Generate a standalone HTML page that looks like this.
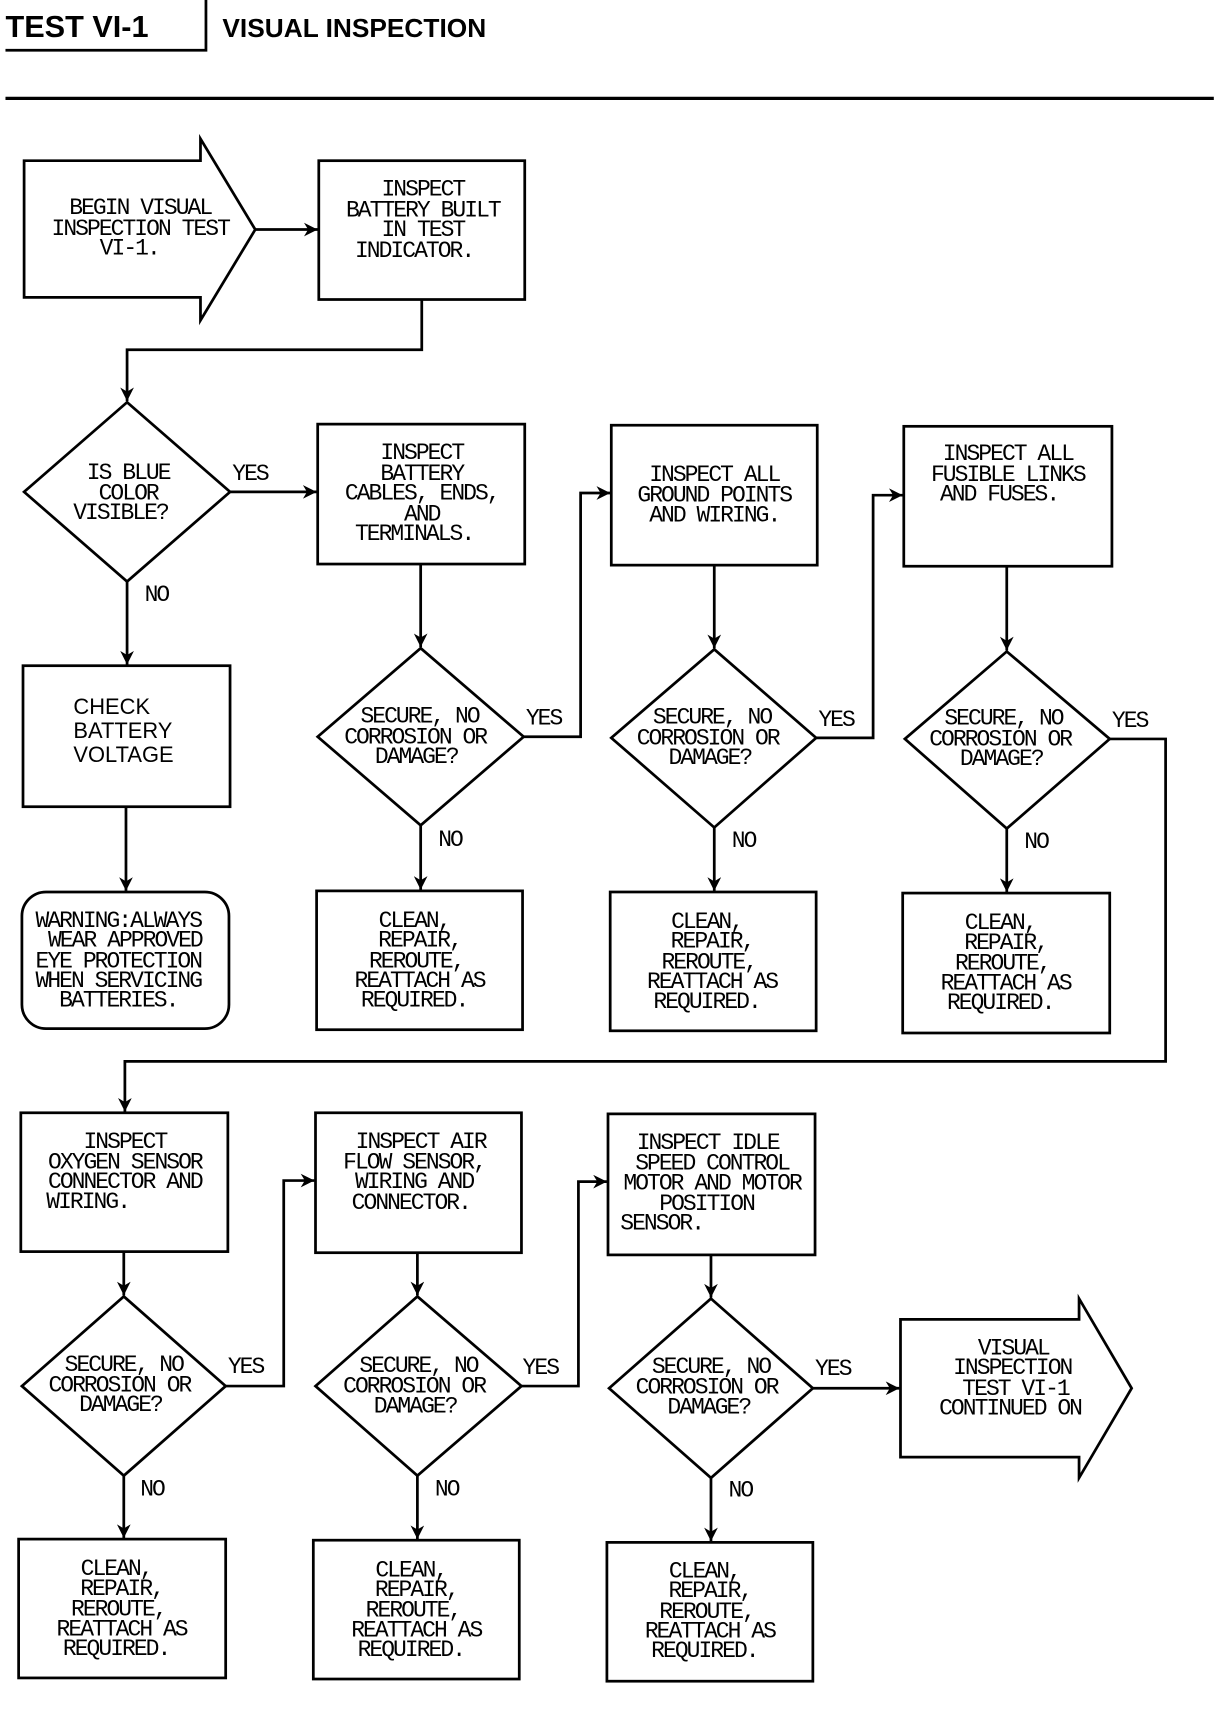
<!DOCTYPE html>
<html><head><meta charset="utf-8"><style>
html,body{margin:0;padding:0;background:#fff;}
svg{display:block;}
.t{font-family:"Liberation Mono",monospace;font-size:21px;letter-spacing:-1.8px;text-anchor:middle;fill:#000;}
.l{font-family:"Liberation Mono",monospace;font-size:21px;letter-spacing:-1.8px;fill:#000;}
.s{font-family:"Liberation Sans",sans-serif;font-size:20px;fill:#000;}
</style></head><body>
<svg width="1216" height="1714" viewBox="0 0 1110 1568" preserveAspectRatio="none" xmlns="http://www.w3.org/2000/svg">
<defs><marker id="a" viewBox="0 0 10 10" refX="10" refY="5" markerWidth="5" markerHeight="5" orient="auto"><path d="M0,0 L10,5 L0,10 L3,5 z" fill="#000"/></marker></defs>
<text x="5" y="34" font-family="Liberation Sans,sans-serif" font-weight="bold" font-size="28">TEST VI-1</text>
<text x="203" y="34" font-family="Liberation Sans,sans-serif" font-weight="bold" font-size="24">VISUAL INSPECTION</text>
<g fill="none" stroke="#000" stroke-width="2.5">
<path d="M188,0 V46 H5"/>
<path d="M5,90 H1108" stroke-width="3"/>
<polygon points="22,147 183,147 183,127 233,210 183,293 183,272 22,272"/>
<rect x="291" y="147" width="188" height="127"/>
<path d="M233,210 H290" marker-end="url(#a)"/>
<path d="M385,274 V320 H116 V367" marker-end="url(#a)"/>
<polygon points="116,368 210,450 116,532 22,450"/>
<path d="M210,450 H289" marker-end="url(#a)"/>
<rect x="290" y="388" width="189" height="128"/>
<path d="M116,532 V608" marker-end="url(#a)"/>
<rect x="21" y="609" width="189" height="129"/>
<path d="M115,738 V815" marker-end="url(#a)"/>
<rect x="20" y="816" width="189" height="125" rx="22"/>
<!-- col2 -->
<path d="M384,516 V592" marker-end="url(#a)"/>
<polygon points="384,593 478,674 384,755 290,674"/>
<path d="M478,674 H530 V451 H557" marker-end="url(#a)"/>
<path d="M384,755 V814" marker-end="url(#a)"/>
<rect x="289" y="815" width="188" height="127"/>
<!-- col3 -->
<rect x="558" y="389" width="188" height="128"/>
<path d="M652,517 V593" marker-end="url(#a)"/>
<polygon points="652,594 745,675 652,757 558,675"/>
<path d="M745,675 H797 V453 H824" marker-end="url(#a)"/>
<path d="M652,757 V815" marker-end="url(#a)"/>
<rect x="557" y="816" width="188" height="127"/>
<!-- col4 -->
<rect x="825" y="390" width="190" height="128"/>
<path d="M919,518 V595" marker-end="url(#a)"/>
<polygon points="919,596 1013,676 919,758 826,676"/>
<path d="M1013,676 H1064 V971 H114 V1017" marker-end="url(#a)"/>
<path d="M919,758 V816" marker-end="url(#a)"/>
<rect x="824" y="817" width="189" height="128"/>
<!-- row3 -->
<rect x="19" y="1018" width="189" height="127"/>
<path d="M113,1145 V1185" marker-end="url(#a)"/>
<polygon points="113,1186 206,1268 113,1350 20,1268"/>
<path d="M206,1268 H259 V1080 H287" marker-end="url(#a)"/>
<path d="M113,1350 V1407" marker-end="url(#a)"/>
<rect x="17" y="1408" width="189" height="127"/>
<rect x="288" y="1018" width="188" height="128"/>
<path d="M381,1146 V1185" marker-end="url(#a)"/>
<polygon points="381,1186 476,1268 381,1350 288,1268"/>
<path d="M476,1268 H528 V1081 H554" marker-end="url(#a)"/>
<path d="M381,1350 V1408" marker-end="url(#a)"/>
<rect x="286" y="1409" width="188" height="127"/>
<rect x="555" y="1019" width="189" height="129"/>
<path d="M649,1148 V1187" marker-end="url(#a)"/>
<polygon points="649,1188 742,1270 649,1352 556,1270"/>
<path d="M742,1270 H821" marker-end="url(#a)"/>
<path d="M649,1352 V1410" marker-end="url(#a)"/>
<rect x="554" y="1411" width="188" height="127"/>
<polygon points="822,1207 985,1207 985,1188 1033,1270 985,1352 985,1333 822,1333"/>
</g>
<g class="t">
<text x="128" y="196">BEGIN VISUAL</text><text x="128" y="215">INSPECTION TEST</text><text x="118" y="233">VI-1.</text>
<text x="386" y="179">INSPECT</text><text x="386" y="198">BATTERY BUILT</text><text x="386" y="216">IN TEST</text><text x="378" y="235">INDICATOR.</text>
<text x="117" y="438">IS BLUE</text><text x="117" y="457">COLOR</text><text x="110" y="475">VISIBLE?</text>
<text x="385" y="420">INSPECT</text><text x="385" y="439">BATTERY</text><text x="385" y="457">CABLES, ENDS,</text><text x="385" y="476">AND</text><text x="378" y="494">TERMINALS.</text>
<text x="652" y="440">INSPECT ALL</text><text x="652" y="459">GROUND POINTS</text><text x="652" y="477">AND WIRING.</text>
<text x="920" y="421">INSPECT ALL</text><text x="920" y="440">FUSIBLE LINKS</text><text x="912" y="458">AND FUSES.</text>
<text x="108" y="848">WARNING:ALWAYS</text><text x="114" y="866">WEAR APPROVED</text><text x="108" y="885">EYE PROTECTION</text><text x="108" y="903">WHEN SERVICING</text><text x="108" y="921">BATTERIES.</text>
<text x="383" y="661">SECURE, NO</text><text x="379" y="680">CORROSION OR</text><text x="380" y="698">DAMAGE?</text>
<text x="650" y="662">SECURE, NO</text><text x="646" y="681">CORROSION OR</text><text x="648" y="699">DAMAGE?</text>
<text x="916" y="663">SECURE, NO</text><text x="913" y="682">CORROSION OR</text><text x="914" y="700">DAMAGE?</text>
<text x="113" y="1254">SECURE, NO</text><text x="109" y="1273">CORROSION OR</text><text x="110" y="1291">DAMAGE?</text>
<text x="382" y="1255">SECURE, NO</text><text x="378" y="1274">CORROSION OR</text><text x="379" y="1292">DAMAGE?</text>
<text x="649" y="1256">SECURE, NO</text><text x="645" y="1275">CORROSION OR</text><text x="647" y="1293">DAMAGE?</text>
<text x="114" y="1050">INSPECT</text><text x="114" y="1069">OXYGEN SENSOR</text><text x="114" y="1087">CONNECTOR AND</text><text x="80" y="1105">WIRING.</text>
<text x="384" y="1050">INSPECT AIR</text><text x="378" y="1069">FLOW SENSOR,</text><text x="378" y="1087">WIRING AND</text><text x="375" y="1106">CONNECTOR.</text>
<text x="646" y="1051">INSPECT IDLE</text><text x="650" y="1070">SPEED CONTROL</text><text x="650" y="1088">MOTOR AND MOTOR</text><text x="645" y="1107">POSITION</text><text x="604" y="1125">SENSOR.</text>
<text x="925" y="1239">VISUAL</text><text x="924" y="1257">INSPECTION</text><text x="927" y="1276">TEST VI-1</text><text x="922" y="1294">CONTINUED ON</text>
</g>
<g class="t" id="c">
<text x="378" y="848">CLEAN,</text><text x="383" y="866">REPAIR,</text><text x="380" y="885">REROUTE,</text><text x="383" y="903">REATTACH AS</text><text x="378" y="921">REQUIRED.</text>
<text x="645" y="849">CLEAN,</text><text x="650" y="867">REPAIR,</text><text x="647" y="886">REROUTE,</text><text x="650" y="904">REATTACH AS</text><text x="645" y="922">REQUIRED.</text>
<text x="913" y="850">CLEAN,</text><text x="918" y="868">REPAIR,</text><text x="915" y="887">REROUTE,</text><text x="918" y="905">REATTACH AS</text><text x="913" y="923">REQUIRED.</text>
<text x="106" y="1441">CLEAN,</text><text x="111" y="1459">REPAIR,</text><text x="108" y="1478">REROUTE,</text><text x="111" y="1496">REATTACH AS</text><text x="106" y="1514">REQUIRED.</text>
<text x="375" y="1442">CLEAN,</text><text x="380" y="1460">REPAIR,</text><text x="377" y="1479">REROUTE,</text><text x="380" y="1497">REATTACH AS</text><text x="375" y="1515">REQUIRED.</text>
<text x="643" y="1443">CLEAN,</text><text x="648" y="1461">REPAIR,</text><text x="645" y="1480">REROUTE,</text><text x="648" y="1498">REATTACH AS</text><text x="643" y="1516">REQUIRED.</text>
</g>
<g class="l">
<text x="212" y="439">YES</text><text x="132" y="550">NO</text>
<text x="480" y="663">YES</text><text x="400" y="774">NO</text>
<text x="747" y="664">YES</text><text x="668" y="775">NO</text>
<text x="1015" y="665">YES</text><text x="935" y="776">NO</text>
<text x="208" y="1256">YES</text><text x="128" y="1368">NO</text>
<text x="477" y="1257">YES</text><text x="397" y="1368">NO</text>
<text x="744" y="1258">YES</text><text x="665" y="1369">NO</text>
</g>
<text class="s" x="67" y="653">CHECK</text><text class="s" x="67" y="675">BATTERY</text><text class="s" x="67" y="697">VOLTAGE</text>
</svg>
</body></html>
